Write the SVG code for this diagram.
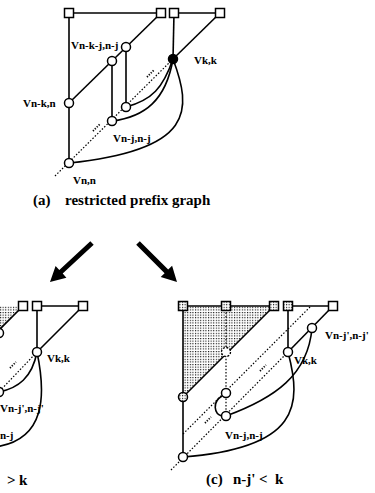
<svg xmlns="http://www.w3.org/2000/svg" width="375" height="493" viewBox="0 0 375 493">
<defs>
<pattern id="dots" width="2.6" height="2.6" patternUnits="userSpaceOnUse"><rect width="2.6" height="2.6" fill="#fff"/><rect width="1.1" height="1.1" fill="#000"/></pattern>
<style>
.ln{stroke:#000;stroke-width:1.6;fill:none}
.dt{stroke:#000;stroke-width:1.2;stroke-dasharray:1.5 1.8;fill:none}
.el{stroke:#000;stroke-width:1.8;stroke-dasharray:1.2 1.5;fill:none}
.nd{fill:#fff;stroke:#000;stroke-width:1.5}
.nf{fill:#000;stroke:#000;stroke-width:1.5}
.np{fill:url(#dots);stroke:#000;stroke-width:1.5}
.ndash{fill:#fff;stroke:#000;stroke-width:1.3;stroke-dasharray:2 1.5}
.lb{font-family:"Liberation Serif",serif;font-weight:bold;font-size:11px;fill:#000}
.cap{font-family:"Liberation Serif",serif;font-weight:bold;font-size:15px;fill:#000}
</style>
</defs>
<rect width="375" height="493" fill="#fff"/>

<!-- shaded regions -->
<polygon points="-10,306 23,306 -2,331" fill="url(#dots)"/>
<polygon points="183,306 274,306 183,397" fill="url(#dots)"/>

<g id="connectors">
  <!-- (a) -->
  <path class="ln" d="M69,13 H161"/>
  <path class="ln" d="M174,13 H220"/>
  <path class="ln" d="M69,13 V163"/>
  <path class="ln" d="M161,13 L69,103"/>
  <path class="ln" d="M126,47 V107"/>
  <path class="ln" d="M112,61 V121"/>
  <path class="ln" d="M174,13 L173,59"/>
  <path class="ln" d="M220,13 L173,59"/>
  <path class="dt" d="M55,176 L173,59"/>
  <path class="el" d="M147,77 L154,70"/>
  <path class="el" d="M93,131 L100,124"/>
  <path class="ln" d="M173,59 C163,88 152,100 126,107"/>
  <path class="ln" d="M173,59 C166,100 145,117 112,121"/>
  <path class="ln" d="M173,59 C192,110 195,150 69,163"/>
  <!-- arrows -->
  <polygon points="90.3,241.2 59.3,270 55.6,265.9 50,282 66.4,277.7 62.7,273.6 93.7,244.8" fill="#000"/>
  <polygon points="139.8,241.2 168.2,269.6 172.1,265.7 177,282 160.7,277.1 164.6,273.2 136.2,244.8" fill="#000"/>
  <!-- (b) -->
  <path class="ln" d="M23,306 L-2,331"/>
  <path class="ln" d="M37,306 H83"/>
  <path class="ln" d="M37,306 V352"/>
  <path class="ln" d="M83,306 L37,352"/>
  <path class="dt" d="M37,352 L-5,396"/>
  <path class="el" d="M10,368 L16,362"/>
  <path class="ln" d="M-1,392 C18,388 32,378 37,352"/>
  <path class="ln" d="M37,352 C46,395 46,440 -5,447"/>
  <!-- (c) -->
  <path class="ln" d="M183,306 H274"/>
  <path class="ln" d="M183,306 V457"/>
  <path class="ln" d="M274,306 L183,397"/>
  <path class="ln" d="M288,306 H333"/>
  <path class="ln" d="M288,306 V352"/>
  <path class="ln" d="M333,306 L288,352"/>
  <path class="dt" d="M226,306 V416"/>
  <path class="dt" d="M171,470 L288,352"/>
  <path class="dt" d="M183,434 L311,306"/>
  <path class="el" d="M260,371 L266,365"/>
  <path class="el" d="M205,423 L211,417"/>
  <path class="ln" d="M312,328 C308,375 275,398 226,416"/>
  <path class="ln" d="M288,352 C302,405 300,448 183,457"/>
  <path class="ln" d="M222,396 C212,402 214,414 222,416"/>
</g>

<!-- (a) nodes -->
<g id="a-sq1"><rect class="nd" x="64.5" y="8.5" width="9" height="9"/></g>
<g id="a-sq2"><rect class="nd" x="156.5" y="8.5" width="9" height="9"/></g>
<g id="a-sq3"><rect class="nd" x="169.5" y="8.5" width="9" height="9"/></g>
<g id="a-sq4"><rect class="nd" x="215.5" y="8.5" width="9" height="9"/></g>
<g id="a-vnkjnj"><circle class="nd" cx="126" cy="47" r="4.5"/><text class="lb" x="71" y="49">Vn-k-j,n-j</text></g>
<g id="a-n2"><circle class="nd" cx="112" cy="61" r="4.5"/></g>
<g id="a-vnkn"><circle class="nd" cx="69" cy="103" r="4.5"/><text class="lb" x="23" y="107">Vn-k,n</text></g>
<g id="a-nb1"><circle class="nd" cx="126" cy="107" r="4.5"/></g>
<g id="a-vnjnj"><circle class="nd" cx="112" cy="121" r="4.5"/><text class="lb" x="113" y="142">Vn-j,n-j</text></g>
<g id="a-vnn"><circle class="nd" cx="69" cy="163" r="4.5"/><text class="lb" x="73" y="184">Vn,n</text></g>
<g id="a-vkk"><circle class="nf" cx="173" cy="59" r="4.5"/><text class="lb" x="194" y="64">Vk,k</text></g>
<g id="cap-a"><text class="cap" x="33" y="205">(a)</text><text class="cap" x="65" y="205">restricted prefix graph</text></g>

<!-- (b) nodes -->
<g id="b-sq1"><rect class="nd" x="18.5" y="301.5" width="9" height="9"/></g>
<g id="b-sq2"><rect class="nd" x="32.5" y="301.5" width="9" height="9"/></g>
<g id="b-sq3"><rect class="nd" x="78.5" y="301.5" width="9" height="9"/></g>
<g id="b-n1"><circle class="nd" cx="-1" cy="333" r="4.5"/></g>
<g id="b-vkk"><circle class="nd" cx="37" cy="352" r="4.5"/><text class="lb" x="47" y="362">Vk,k</text></g>
<g id="b-vnj2"><circle class="nd" cx="-1" cy="392" r="4.5"/><text class="lb" x="0" y="412">Vn-j',n-j'</text></g>
<g id="b-vnj"><text class="lb" x="0" y="439">n-j</text></g>
<g id="cap-b"><text class="cap" x="7" y="485">&gt;</text><text class="cap" x="19" y="485">k</text></g>

<!-- (c) nodes -->
<g id="c-sq1"><rect class="np" x="178.5" y="301.5" width="9" height="9"/></g>
<g id="c-sq2"><rect class="np" x="221.5" y="301.5" width="9" height="9"/></g>
<g id="c-sq3"><rect class="np" x="269.5" y="301.5" width="9" height="9"/></g>
<g id="c-sq4"><rect class="np" x="283.5" y="301.5" width="9" height="9"/></g>
<g id="c-sq5"><rect class="nd" x="328.5" y="301.5" width="9" height="9"/></g>
<g id="c-n1"><circle class="np" cx="183" cy="397" r="4.5"/></g>
<g id="c-n2"><circle class="ndash" cx="226" cy="352" r="4.5"/></g>
<g id="c-n3"><circle class="nd" cx="226" cy="393" r="4.5"/></g>
<g id="c-vnjnj"><circle class="nd" cx="226" cy="416" r="4.5"/><text class="lb" x="225" y="439">Vn-j,n-j</text></g>
<g id="c-vnn"><circle class="nd" cx="183" cy="457" r="4.5"/></g>
<g id="c-vkk"><circle class="nd" cx="288" cy="352" r="4.5"/><text class="lb" x="294" y="364">Vk,k</text></g>
<g id="c-vnj2"><circle class="nd" cx="312" cy="328" r="4.5"/><text class="lb" x="325" y="339">Vn-j',n-j'</text></g>
<g id="cap-c"><text class="cap" x="206" y="484">(c)</text><text class="cap" x="233" y="484">n-j'</text><text class="cap" x="259" y="484">&lt;</text><text class="cap" x="275" y="484">k</text></g>
</svg>
